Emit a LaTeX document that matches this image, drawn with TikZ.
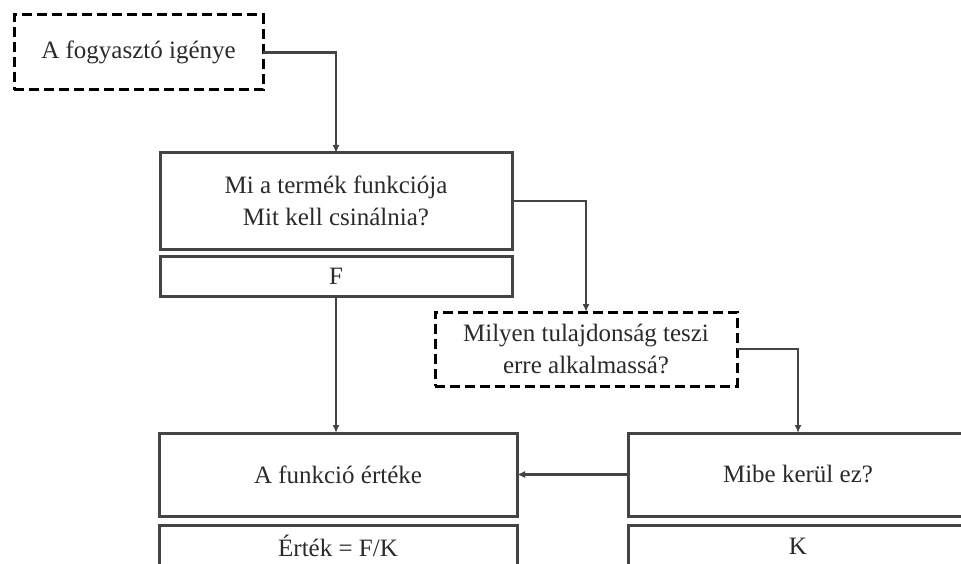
\documentclass[tikz,border=0pt]{standalone}
\usepackage{fontspec}
\setmainfont{Liberation Serif}
\usetikzlibrary{arrows.meta,calc}
\definecolor{ln}{HTML}{444444}
\definecolor{tx}{HTML}{2A2A2A}
\begin{document}
\begin{tikzpicture}[x=1pt,y=-1pt,
  every node/.style={inner sep=0pt,outer sep=0pt,text=tx,font=\fontsize{25}{32}\selectfont,align=center},
  solidbox/.style={draw=ln,line width=3pt,rectangle},
  dashbox/.style={draw=black,line width=3pt,dash pattern=on 10pt off 5pt,rectangle},
  conn/.style={draw=ln,line width=2.5pt,-{Latex[length=8pt,width=7pt]}}]
\useasboundingbox (0,0) rectangle (961,564);
% top dashed box
\node[dashbox,minimum width=249pt,minimum height=75pt] (b1) at (138.5,52.5) {A fogyasztó igénye};
% function box
\node[solidbox,minimum width=352pt,minimum height=96pt] (b2) at (336,201) {Mi a termék funkciója\\Mit kell csinálnia?};
\node[solidbox,minimum width=352pt,minimum height=40pt] (f) at (336,276) {F};
% property dashed box
\node[dashbox,minimum width=302pt,minimum height=74pt] (b3) at (586,349) {Milyen tulajdonság teszi\\erre alkalmassá?};
% value box
\node[solidbox,minimum width=358pt,minimum height=83pt] (b4) at (338,474.5) {A funkció értéke};
\node[solidbox,minimum width=358pt,minimum height=45pt] (v) at (338,547.5) {};
\node (vt) at (338,546) {Érték = F/K};
% cost box
\node[solidbox,minimum width=340pt,minimum height=83pt] (b5) at (798,474.5) {Mibe kerül ez?};
\node[solidbox,minimum width=340pt,minimum height=45pt] (k) at (798,547.5) {};
\node (kt) at (798,546) {K};
% connectors
\draw[conn] (b1.east) -| (b2.north);
\draw[conn] (b2.east) -| (b3.north);
\draw[conn] (b3.east) -| (b5.north);
\draw[conn] (f.south) -- (f.south |- b4.north);
\draw[conn] (b5.west) -- (b4.east);
\end{tikzpicture}
\end{document}
